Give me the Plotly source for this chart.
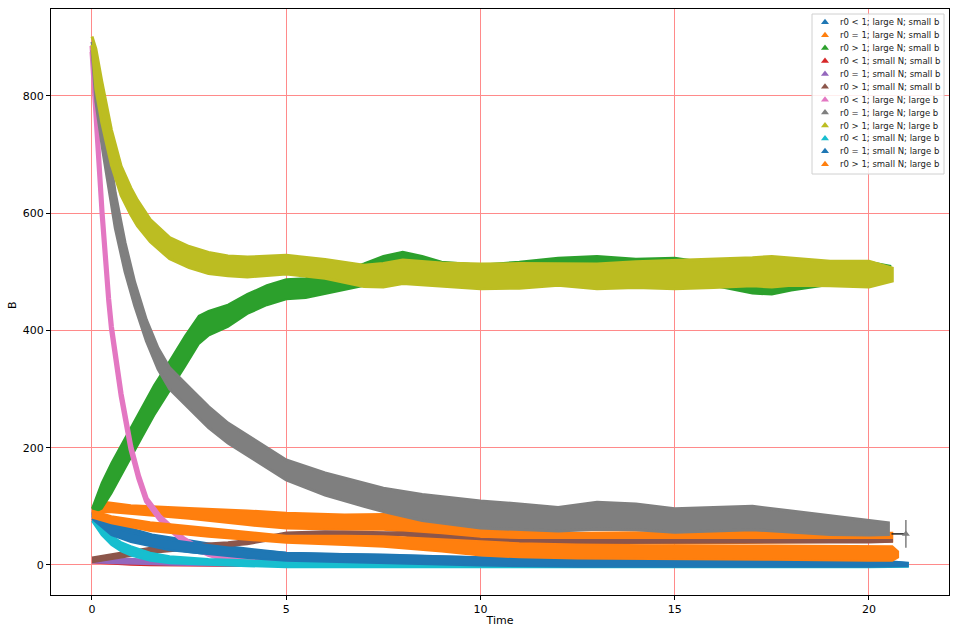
import plotly.graph_objects as go

# ---------------- data ----------------
LABELS = [
    "r0 < 1; large N; small b", "r0 = 1; large N; small b", "r0 > 1; large N; small b",
    "r0 < 1; small N; small b", "r0 = 1; small N; small b", "r0 > 1; small N; small b",
    "r0 < 1; large N; large b", "r0 = 1; large N; large b", "r0 > 1; large N; large b",
    "r0 < 1; small N; large b", "r0 = 1; small N; large b", "r0 > 1; small N; large b",
]
COLORS = ["#1f77b4", "#ff7f0e", "#2ca02c", "#d62728", "#9467bd", "#8c564b",
          "#e377c2", "#7f7f7f", "#bcbd22", "#17becf", "#1f77b4", "#ff7f0e"]

# 1  r0<1 large N small b (blue)
T1 = [0, 0.25, 0.5, 1.0, 1.55, 2.5, 3.25, 4, 5, 6, 7.5, 9, 10, 12.5, 15, 17.5, 20, 21.0]
LO1 = [83, 69, 58, 44, 32, 22, 16, 12, 7, 5, 4, 1, -1, -3, -2, -3, -3, -1]
HI1 = [89, 79, 72, 62, 52, 42, 34, 28, 21, 19, 18, 15, 13, 11, 12, 11, 9, 3]
# 2  r0=1 large N small b (orange, upper band)
T2 = [0, 0.25, 0.5, 1, 2.5, 4, 5, 6.5, 7.5, 8.5, 9.5, 10, 11, 12.5, 14, 15, 16.5, 17.5, 19, 20, 20.6]
LO2 = [88, 90, 90, 88, 79, 68, 62, 60, 60, 54, 46, 42, 39, 37, 37, 36, 37, 38, 39, 39, 40]
HI2 = [96, 108, 106, 102, 97, 93, 89, 86, 87, 84, 70, 62, 58, 55, 56, 56, 60, 58, 56, 55, 55]
# 3  r0>1 large N small b (green)
T3 = [0, 0.25, 0.5, 0.93, 1.3, 1.6, 2.0, 2.4, 2.75, 3.0, 3.5, 4.0, 4.5, 5.0, 5.5, 6, 6.5, 7, 7.5, 8,
      8.5, 9, 10, 11, 12, 13, 14, 15, 16, 17, 17.5, 18, 19, 20, 20.55]
LO3 = [88, 96, 122, 174, 219, 255, 296, 339, 377, 391, 406, 428, 443, 453, 455, 461, 468, 476, 483, 490,
       489, 483, 478, 483, 486, 489, 488, 486, 476, 463, 461, 468, 478, 483, 486]
HI3 = [96, 140, 174, 226, 271, 307, 348, 391, 425, 433, 444, 462, 477, 487, 489, 495, 502, 514, 527, 534,
       527, 517, 512, 517, 524, 527, 522, 524, 514, 501, 495, 502, 512, 517, 510]
# 4  r0<1 small N small b (red)
T4 = [0, 0.5, 1, 1.5, 2, 3, 4, 5]
LO4 = [4, 2, 0, -1, -2, -2, -2, -2]
HI4 = [8, 5, 3, 2, 1, 0, 0, -1]
# 5  r0=1 small N small b (purple)
T5 = [0, 0.5, 1, 1.5, 2, 3, 4, 5, 7]
LO5 = [4, 3, 2, 1, 0, -1, -1, -2, -2]
HI5 = [9, 10, 11, 9, 7, 4, 2, 1, 0]
# 6  r0>1 small N small b (brown)
T6 = [0, 0.5, 1, 1.5, 2.25, 3, 3.5, 4, 4.5, 5, 6, 7, 8, 9, 10, 11, 12.5, 15, 17.5, 20, 20.6]
LO6 = [4, 9, 15, 20, 25, 29, 32, 35, 41, 49, 51, 51, 50, 43, 37, 36, 37, 38, 38, 38, 39]
HI6 = [13, 19, 25, 30, 34, 37, 39, 43, 49, 56, 58, 57, 56, 51, 45, 43, 43, 44, 44, 44, 43]
# 7  r0<1 large N large b (pink)
T7 = [0, 0.1, 0.26, 0.43, 0.5, 0.75, 1.0, 1.2, 1.4, 1.75, 2.06, 2.35, 2.65, 3.0, 3.4, 4, 5, 7.5, 10, 15, 20.5]
LO7 = [875, 757, 598, 450, 403, 288, 198, 148, 109, 78, 58, 41, 29, 18, 10, 6, 3, 1, 0, -1, -1]
HI7 = [885, 763, 602, 454, 407, 292, 202, 152, 113, 82, 62, 45, 33, 22, 14, 10, 7, 5, 4, 3, 3]
# 8  r0=1 large N large b (grey)
T8 = [0, 0.1, 0.28, 0.6, 0.85, 1.1, 1.4, 1.7, 2.0, 2.5, 3.0, 3.5, 4.1, 5.0, 6.0, 7.0, 7.5, 8.5, 10,
      11, 12, 13, 14, 15, 16, 17, 18, 19, 20, 20.5]
LO8 = [878, 790, 706, 574, 500, 442, 382, 334, 300, 267, 234, 208, 183, 145, 119, 100, 91, 76, 63,
       60, 58, 61, 60, 56, 58, 60, 56, 52, 51, 52]
HI8 = [892, 850, 778, 634, 550, 482, 418, 370, 336, 303, 270, 242, 217, 179, 157, 140, 131, 120, 109,
       104, 98, 107, 104, 96, 98, 100, 92, 84, 77, 72]
# 9  r0>1 large N large b (olive)
T9 = [0, 0.1, 0.25, 0.5, 0.75, 1.0, 1.17, 1.5, 2.0, 2.5, 3.0, 3.5, 4, 5, 6, 7, 7.5, 8, 9, 10, 11,
      12, 13, 14, 15, 16, 17, 17.5, 18, 19, 20, 20.6]
LO9 = [887, 812, 755, 682, 630, 597, 578, 551, 522, 507, 497, 493, 491, 496, 489, 475, 474, 480, 475,
       471, 472, 477, 471, 473, 471, 473, 476, 474, 477, 476, 474, 484]
HI9 = [901, 880, 825, 742, 680, 643, 622, 589, 558, 543, 533, 527, 525, 528, 521, 511, 514, 520, 515,
       513, 514, 513, 513, 517, 519, 521, 524, 526, 523, 518, 518, 506]
# 10 r0<1 small N large b (cyan)
T10 = [0, 0.25, 0.5, 0.75, 1.0, 1.5, 2.0, 3, 4, 5, 7.5, 10, 15, 20, 21]
LO10 = [75, 51, 34, 23, 16, 7, 3, 0, -2, -4, -4, -4, -4, -4, -3]
HI10 = [85, 65, 50, 39, 32, 21, 15, 10, 8, 5, 4, 4, 4, 4, 3]
# 11 r0=1 small N large b (blue)
T11 = [0, 0.5, 1, 2, 3, 4, 5, 7.5, 10, 12.5, 15, 17.5, 20, 21]
LO11 = [79, 51, 39, 25, 18, 12, 7, 3, -1, -3, -2, -3, -3, -2]
HI11 = [87, 65, 55, 43, 34, 26, 21, 17, 13, 11, 12, 11, 9, 4]
# 12 r0>1 small N large b (orange, lower band)
T12 = [0, 0.5, 1.5, 3, 5, 6.5, 7.5, 9, 10, 11, 12.5, 15, 17.5, 20, 20.6, 20.75]
LO12 = [81, 71, 58, 48, 38, 34, 31, 23, 16, 13, 11, 10, 9, 7, 7, 13]
HI12 = [93, 83, 73, 63, 50, 50, 49, 44, 41, 37, 35, 33, 33, 33, 32, 23]

SERIES = [(T1, LO1, HI1), (T2, LO2, HI2), (T3, LO3, HI3), (T4, LO4, HI4), (T5, LO5, HI5),
          (T6, LO6, HI6), (T7, LO7, HI7), (T8, LO8, HI8), (T9, LO9, HI9), (T10, LO10, HI10),
          (T11, LO11, HI11), (T12, LO12, HI12)]

# last point of the grey run with its error bar
ERR_X = [20.58, 20.95]
ERR_Y = [53, 53]
ERR_HALF = 23.5

X_TICKS = [0, 5, 10, 15, 20]
Y_TICKS = [0, 200, 400, 600, 800]

# ---------------- style ----------------
OUTLINE = [2, 2, 2, 1.5, 1.5, 1.5, 5, 3, 3, 2, 2, 2]
GRID = "#ff8a8a"

# plot area in pixels (961x627 canvas)
L, R, T, B = 51, 949, 9, 595
W_PX, H_PX = R - L, B - T

fig = go.Figure()
for (t, lo, hi), col, w in zip(SERIES, COLORS, OUTLINE):
    fig.add_trace(go.Scatter(
        x=list(t) + list(t)[::-1], y=list(hi) + list(lo)[::-1],
        mode="lines", fill="toself", fillcolor=col,
        line=dict(color=col, width=w), showlegend=False, hoverinfo="skip"))

fig.add_trace(go.Scatter(x=ERR_X, y=ERR_Y, mode="lines",
                         line=dict(color="#222222", width=1.5),
                         showlegend=False, hoverinfo="skip"))
fig.add_trace(go.Scatter(x=ERR_X[1:], y=ERR_Y[1:], mode="markers",
                         marker=dict(symbol="triangle-up", color="#7f7f7f", size=7),
                         error_y=dict(type="constant", value=ERR_HALF, color="#7f7f7f",
                                      thickness=1.5, width=0),
                         showlegend=False, hoverinfo="skip"))

# ---------------- hand-built legend (overlay axis in 0..1 plot-area units) ----------------
def px_x(p):
    return (p - L) / W_PX

def px_y(p):
    return (B - p) / H_PX

bx0, bx1, by0, by1 = px_x(812), px_x(944), px_y(174), px_y(14)
fig.add_trace(go.Scatter(x=[bx0, bx1, bx1, bx0, bx0], y=[by0, by0, by1, by1, by0],
                         xaxis="x2", yaxis="y2", mode="lines", fill="toself",
                         fillcolor="rgba(255,255,255,0.85)",
                         line=dict(color="#d0d0d0", width=1),
                         showlegend=False, hoverinfo="skip"))
row_y = [px_y(22.3 + 12.9 * i) for i in range(len(LABELS))]
fig.add_trace(go.Scatter(x=[px_x(825)] * len(LABELS), y=row_y, xaxis="x2", yaxis="y2",
                         mode="markers",
                         marker=dict(symbol="triangle-up", color=COLORS, size=7),
                         showlegend=False, hoverinfo="skip"))
for lab, yy in zip(LABELS, row_y):
    fig.add_annotation(x=px_x(838), y=yy, xref="paper", yref="paper", text=lab,
                       showarrow=False, xanchor="left", yanchor="middle",
                       font=dict(size=8.5, color="#222222", family="DejaVu Sans"))

# y-axis title placed as in the reference
fig.add_annotation(x=px_x(12), y=px_y(305), xref="paper", yref="paper", text="B",
                   showarrow=False, textangle=-90, xanchor="center", yanchor="middle",
                   font=dict(size=11, color="#000000", family="DejaVu Sans"))

axis_common = dict(showline=True, linecolor="black", linewidth=1, mirror=True,
                   ticks="outside", ticklen=4, tickcolor="black",
                   showgrid=True, gridcolor=GRID, gridwidth=1, automargin=False,
                   zeroline=False, tickfont=dict(size=11, color="#000000"),
                   title_font=dict(size=11, color="#000000"))

fig.update_layout(
    width=961, height=627,
    margin=dict(l=L, r=961 - R, t=T, b=627 - B),
    paper_bgcolor="white", plot_bgcolor="white",
    font=dict(family="DejaVu Sans", color="black"),
    showlegend=False,
    xaxis=dict(range=[-1.055, 22.06], tickvals=X_TICKS, title=dict(text="Time", standoff=4),
               **axis_common),
    yaxis=dict(range=[-51.2, 948], tickvals=Y_TICKS, **axis_common),
    xaxis2=dict(overlaying="x", range=[0, 1], visible=False, showgrid=False, zeroline=False),
    yaxis2=dict(overlaying="y", range=[0, 1], visible=False, showgrid=False, zeroline=False),
)

fig.write_html("out.html")
